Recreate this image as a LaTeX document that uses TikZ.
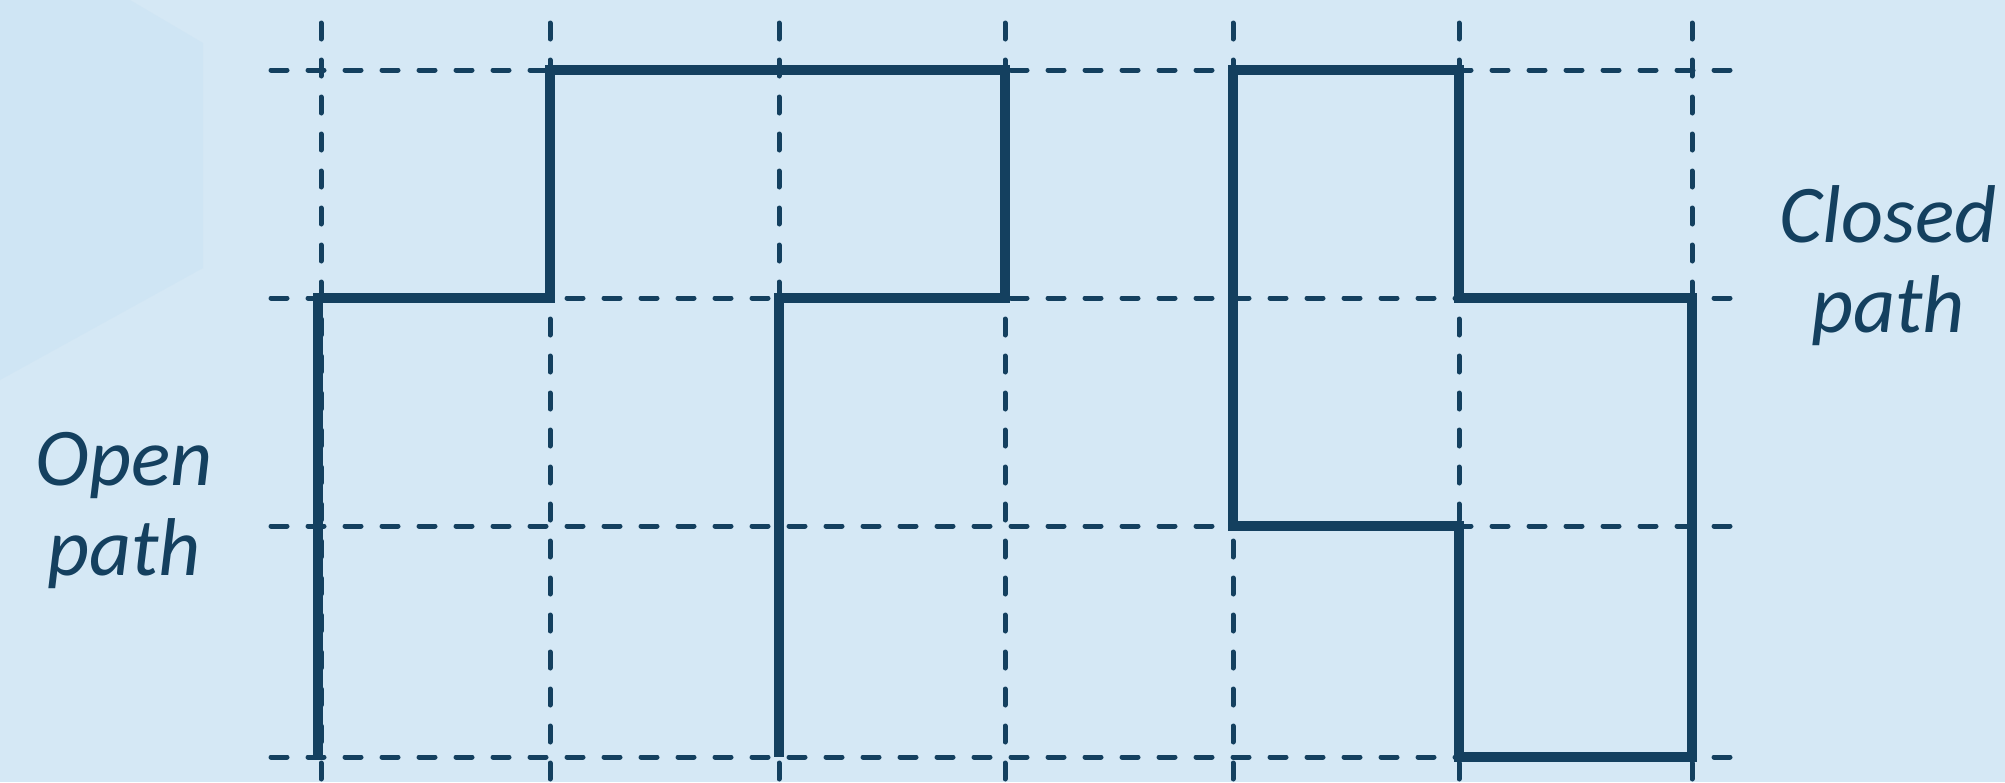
\documentclass[tikz,border=0pt]{standalone}
\usepackage{fontspec}
\setmainfont{Carlito}
\usetikzlibrary{positioning}

\definecolor{pathblue}{HTML}{14405F}
\definecolor{bgblue}{HTML}{D5E8F5}
\definecolor{bgshade}{HTML}{CFE5F4}

\tikzset{
  gridline/.style={pathblue, line width=2.5pt, line cap=round, dash pattern=on 8pt off 10.5pt},
  walk/.style={pathblue, line width=5pt, line join=miter},
  pathlabel/.style={pathblue, align=center, font=\fontsize{41}{45}\selectfont\itshape}
}

\begin{document}
\begin{tikzpicture}[x=0.5pt, y=-0.5pt]
    % background
    \fill[bgblue] (0,0) rectangle (2005,782);
    \useasboundingbox (0,0) rectangle (2005,782);
    \fill[bgshade] (0,0) -- (130,0) -- (203,43) -- (203,268) -- (0,380) -- cycle;

    % grid
    \foreach \y in {70,298,526,757}
        \draw[gridline] (271,\y) -- (1731,\y);
    \foreach \x in {321,550,779,1005,1233,1459,1692}
        \draw[gridline] (\x,23) -- (\x,782);

    % open path
    \draw[walk] (318,757) -- (318,298) -- (550,298) -- (550,70) -- (1005,70)
        -- (1005,298) -- (779,298) -- (779,757);

    % closed path
    \draw[walk] (1233,70) -- (1459,70) -- (1459,298) -- (1692,298) -- (1692,757)
        -- (1459,757) -- (1459,526) -- (1233,526) -- cycle;

    % labels
    \node[pathlabel] (open) at (124,510) {Open\\path};
    \node[pathlabel] (closed) at (1888,266) {Closed\\path};
\end{tikzpicture}
\end{document}
